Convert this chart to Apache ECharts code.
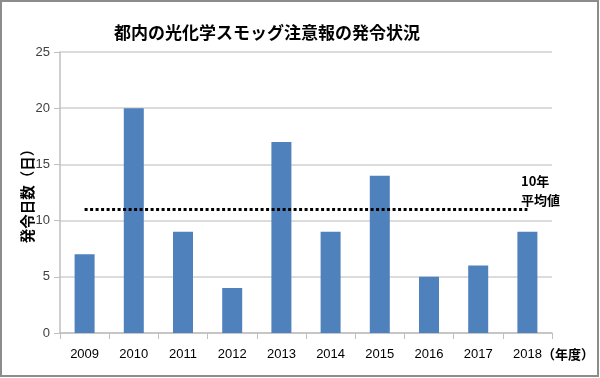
<!DOCTYPE html>
<html><head><meta charset="utf-8">
<script src="https://cdn.jsdelivr.net/npm/echarts@6/dist/echarts.min.js"></script>
<style>html,body{margin:0;padding:0;background:#fff}#c{width:600px;height:378px}</style>
</head><body><div id="c"></div>
<script>
const categories = ['2009','2010','2011','2012','2013','2014','2015','2016','2017','2018'];
const days = [7, 20, 9, 4, 17, 9, 14, 5, 6, 9];
const tenYearAverage = 11;
const titleText = '都内の光化学スモッグ注意報の発令状況';
const yName = '発令日数（日）';
const xName = '（年度）';
const avgLabel = '10年\n平均値';

const chart = echarts.init(document.getElementById('c'), null, {renderer:'canvas'});
const jp = '"Noto Sans CJK JP", sans-serif';
const narrow = '"Liberation Sans Narrow", "Liberation Sans", sans-serif';
chart.setOption({
  animation: false,
  backgroundColor: '#fff',
  title: [
    {text: titleText, left: 262, textAlign: 'center', top: 19,
     textStyle: {fontFamily: jp, fontSize: 17, fontWeight: 'bold', color: '#000'}},
    {text: avgLabel, left: 516, top: 167,
     textStyle: {fontFamily: jp, fontSize: 13, fontWeight: 'bold', color: '#000', lineHeight: 19}}
  ],
  graphic: [{type: 'rect', shape: {x: 1, y: 1, width: 597, height: 375},
    style: {fill: 'none', stroke: '#8c8c8c', lineWidth: 2}, z: 100}],
  grid: {left: 60, right: 48, top: 52, bottom: 45},
  xAxis: {
    type: 'category', data: categories,
    name: xName, nameLocation: 'end', nameGap: -10, nameMoveOverlap: false,
    nameTextStyle: {fontFamily: jp, fontSize: 13, fontWeight: 'bold', color: '#000', verticalAlign: 'top', padding: [15, 0, 0, 0]},
    axisLine: {lineStyle: {color: '#bfbfbf', width: 1.5}},
    axisTick: {show: true, length: 6, lineStyle: {color: '#bfbfbf'}},
    axisLabel: {fontFamily: narrow, fontSize: 13, color: '#000', margin: 15}
  },
  yAxis: {
    type: 'value', min: 0, max: 25, interval: 5,
    name: yName, nameLocation: 'middle', nameGap: 25, nameRotate: 90, nameMoveOverlap: false,
    nameTextStyle: {fontFamily: jp, fontSize: 14.5, fontWeight: 'bold', color: '#000'},
    axisLine: {show: true, lineStyle: {color: '#bfbfbf', width: 1.5}},
    axisTick: {show: true, length: 6, lineStyle: {color: '#bfbfbf'}},
    axisLabel: {fontFamily: narrow, fontSize: 13, color: '#404040', margin: 10},
    splitLine: {lineStyle: {color: '#d0d0d0', width: 1.5}}
  },
  series: [{
    type: 'bar', data: days, barWidth: 20,
    itemStyle: {color: '#4f81bd'},
    markLine: {
      silent: true, symbol: ['none', 'none'],
      label: {show: false},
      lineStyle: {color: '#000', type: [3, 2.5], width: 3},
      data: [[{coord: ['2009', tenYearAverage]}, {coord: ['2018', tenYearAverage]}]]
    }
  }]
});
</script></body></html>
